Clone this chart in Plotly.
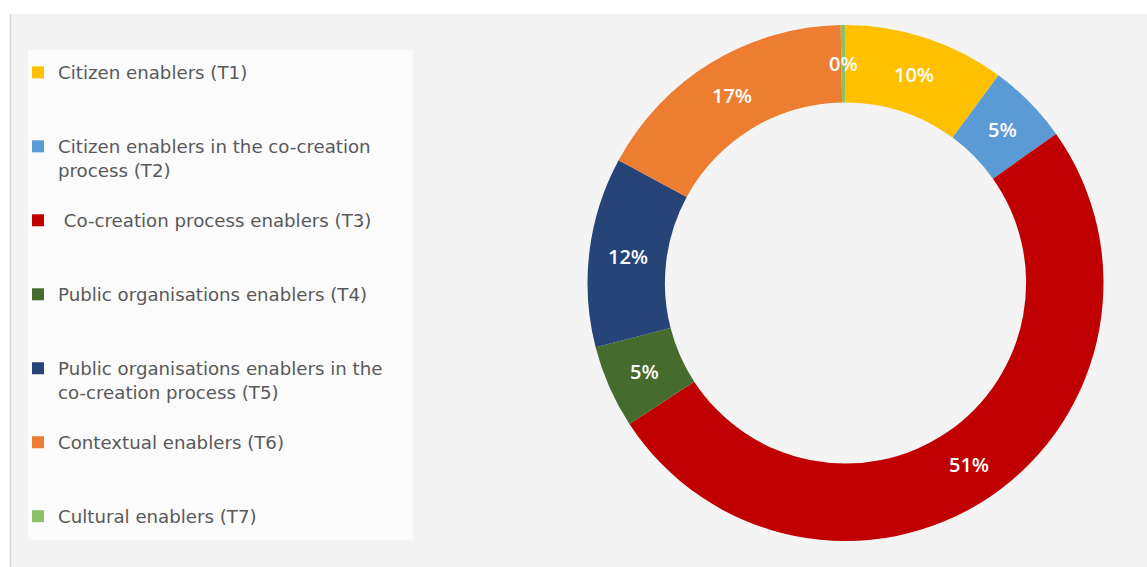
import math
import plotly.graph_objects as go

W, H = 1147, 567

labels = [
    "Citizen enablers (T1)",
    "Citizen enablers in the co-creation<br>process (T2)",
    "\u00a0Co-creation process enablers (T3)",
    "Public organisations enablers (T4)",
    "Public organisations enablers in the<br>co-creation process (T5)",
    "Contextual enablers (T6)",
    "Cultural enablers (T7)",
]
n_lines = [1, 2, 1, 1, 2, 1, 1]
values = [10.1, 5.1, 50.6, 5.2, 11.9, 16.8, 0.3]
colors = ["#FFC000", "#5B9BD5", "#C00000", "#456B2D", "#264478", "#ED7D31", "#8CC168"]

# pad legend labels to 3 lines so every entry takes the same slot height
# (the last entry needs no padding below it)
legend_labels = [
    lab + ("<br>\u00a0" * (3 - k) if i < len(labels) - 1 else "")
    for i, (lab, k) in enumerate(zip(labels, n_lines))
]

# donut geometry (pixels)
cx, cy, R = 845.5, 283.0, 258.0
hole = 0.70

fig = go.Figure()
fig.add_trace(go.Pie(
    labels=legend_labels,
    values=values,
    marker=dict(colors=colors, line=dict(width=0)),
    hole=hole,
    sort=False,
    direction="clockwise",
    rotation=0,
    textinfo="none",
    hoverinfo="label+percent",
    domain=dict(x=[(cx - R) / W, (cx + R) / W],
                y=[(H - cy - R) / H, (H - cy + R) / H]),
))

# labels at the middle of each ring segment, derived from the data
total = sum(values)
r_mid = R * (1 + hole) / 2
cum = 0.0
annotations = []
for v in values:
    mid = (cum + v / 2) / total
    cum += v
    th = 2 * math.pi * mid
    px = cx + r_mid * math.sin(th)
    py = cy - r_mid * math.cos(th)
    annotations.append(dict(
        x=px / W, y=1 - py / H, xref="paper", yref="paper",
        text=f"{round(100 * v / total):d}%", showarrow=False,
        font=dict(family="Open Sans", size=20, color="white", weight=600),
        xanchor="center", yanchor="middle",
    ))

shapes = [
    dict(type="rect", xref="paper", yref="paper",
         x0=10 / W, x1=1, y0=0, y1=1 - 14 / H,
         fillcolor="#f4f4f4", line=dict(width=0), layer="below"),
    dict(type="line", xref="paper", yref="paper",
         x0=10.5 / W, x1=10.5 / W, y0=0, y1=1 - 14 / H,
         line=dict(color="#d4d4d4", width=1.5), layer="below"),
    dict(type="rect", xref="paper", yref="paper",
         x0=28 / W, x1=413 / W, y0=1 - 540 / H, y1=1 - 50 / H,
         fillcolor="#fbfbfb", line=dict(width=0), layer="below"),
]

fig.update_layout(
    width=W, height=H,
    margin=dict(l=0, r=0, t=0, b=0, autoexpand=False),
    paper_bgcolor="white",
    plot_bgcolor="rgba(0,0,0,0)",
    showlegend=True,
    legend=dict(
        x=18 / W, y=1 - 54 / H, xanchor="left", yanchor="top",
        bgcolor="rgba(0,0,0,0)", valign="top",
        font=dict(family="DejaVu Sans", size=18.2, color="#595959"),
        itemclick=False, itemdoubleclick=False,
    ),
    shapes=shapes,
    annotations=annotations,
)

fig.write_html("out.html")
